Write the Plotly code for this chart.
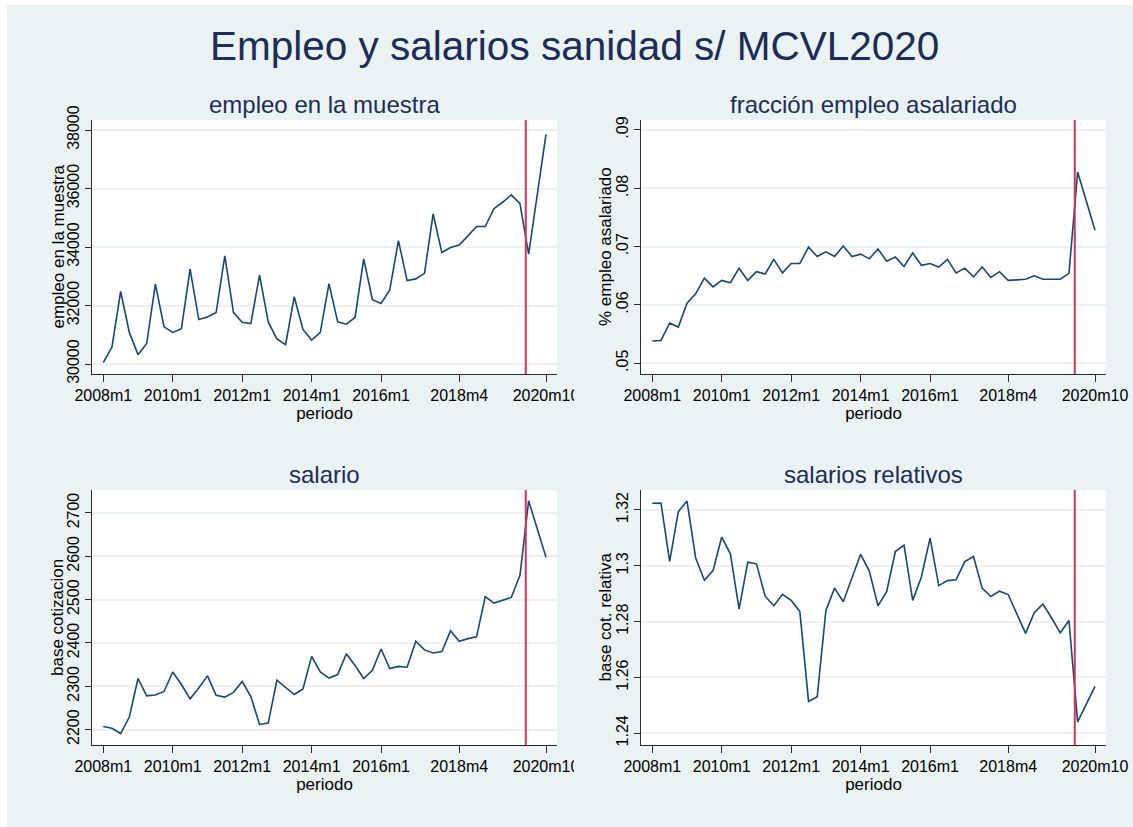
import plotly.graph_objects as go

W, H = 1133, 827

# Quarterly observations (monthly Stata dates); 2020m7 not in the sample
periods = [
    "2008m1", "2008m4", "2008m7", "2008m10", "2009m1", "2009m4", "2009m7", "2009m10",
    "2010m1", "2010m4", "2010m7", "2010m10", "2011m1", "2011m4", "2011m7", "2011m10",
    "2012m1", "2012m4", "2012m7", "2012m10", "2013m1", "2013m4", "2013m7", "2013m10",
    "2014m1", "2014m4", "2014m7", "2014m10", "2015m1", "2015m4", "2015m7", "2015m10",
    "2016m1", "2016m4", "2016m7", "2016m10", "2017m1", "2017m4", "2017m7", "2017m10",
    "2018m1", "2018m4", "2018m7", "2018m10", "2019m1", "2019m4", "2019m7", "2019m10",
    "2020m1", "2020m4", "2020m10",
]

empleo = [
    30050, 30580, 32480, 31080, 30320, 30700, 32730, 31270,
    31080, 31210, 33240, 31520, 31610, 31760, 33700, 31760,
    31430, 31380, 33040, 31440, 30860, 30660, 32300, 31180,
    30820, 31080, 32750, 31440, 31360, 31590, 33590, 32200,
    32070, 32530, 34220, 32850, 32910, 33100, 35130, 33810,
    33980, 34070, 34380, 34700, 34700, 35310, 35530, 35780,
    35480, 33760, 37850,
]

fraccion = [
    0.0538, 0.0539, 0.0569, 0.0562, 0.0603, 0.0619, 0.0646, 0.0631,
    0.0642, 0.0638, 0.0663, 0.0642, 0.0657, 0.0653, 0.0678, 0.0655,
    0.0671, 0.0671, 0.0699, 0.0683, 0.0691, 0.0683, 0.0701, 0.0683,
    0.0687, 0.0679, 0.0696, 0.0675, 0.0682, 0.0666, 0.0689, 0.0668,
    0.0671, 0.0665, 0.0678, 0.0655, 0.0663, 0.0648, 0.0665, 0.0647,
    0.0657, 0.0642, 0.0643, 0.0644, 0.0650, 0.0644, 0.0644, 0.0644,
    0.0654, 0.0828, 0.0728,
]

salario = [
    2207, 2203, 2191, 2229, 2318, 2278, 2280, 2288,
    2333, 2304, 2271, 2296, 2324, 2279, 2275, 2286,
    2311, 2276, 2212, 2215, 2314, 2298, 2281, 2294,
    2369, 2333, 2319, 2327, 2375, 2348, 2318, 2337,
    2386, 2341, 2346, 2344, 2404, 2384, 2377, 2380,
    2428, 2404, 2410, 2414, 2507, 2492, 2498, 2505,
    2556, 2728, 2598,
]

relativos = [
    1.3224, 1.3225, 1.3016, 1.3194, 1.3232, 1.3028, 1.2948, 1.2983,
    1.3103, 1.3043, 1.2845, 1.3013, 1.3007, 1.2891, 1.2857, 1.2898,
    1.2876, 1.2836, 1.2514, 1.2531, 1.2840, 1.2920, 1.2871, 1.2956,
    1.3041, 1.2981, 1.2857, 1.2907, 1.3051, 1.3074, 1.2876, 1.2960,
    1.3099, 1.2929, 1.2947, 1.2950, 1.3015, 1.3033, 1.2920, 1.2890,
    1.2909, 1.2897, 1.2828, 1.2758, 1.2832, 1.2863, 1.2813, 1.2760,
    1.2804, 1.2441, 1.2568,
]

x_ticks = ["2008m1", "2010m1", "2012m1", "2014m1", "2016m1", "2018m4", "2020m10"]
covid_period = "2020m3"

y1_ticks = [30000, 32000, 34000, 36000, 38000]
y2_ticks = [0.05, 0.06, 0.07, 0.08, 0.09]
y2_text = [".05", ".06", ".07", ".08", ".09"]
y3_ticks = [2200, 2300, 2400, 2500, 2600, 2700]
y4_ticks = [1.24, 1.26, 1.28, 1.30, 1.32]
y4_text = ["1.24", "1.26", "1.28", "1.3", "1.32"]


def month_index(p):
    y, m = p.split("m")
    return (int(y) - 2008) * 12 + int(m) - 1


xs = [month_index(p) for p in periods]

BG = "#EAF2F3"
NAVY = "#1a476f"
TITLE_C = "#1c2d57"
RED = "#c8385a"
AXIS_C = "#2b2b2b"
FONT = "Liberation Sans, Arial, sans-serif"


def fx(px):
    return px / W


def fy(py):
    return 1 - py / H


# plot areas in pixels: (left, right, top, bottom)
boxes = [
    (92, 557, 120, 374),
    (641, 1106, 120, 374),
    (92, 557, 490, 745),
    (641, 1106, 490, 745),
]
title_y = [104, 104, 474, 474]
ytitle_x = [57.5, 605, 57.5, 605]

panels = [
    ("empleo en la muestra", "empleo en la muestra", empleo, [29658, 38342], y1_ticks, [str(v) for v in y1_ticks]),
    ("fracción empleo asalariado", "% empleo asalariado", fraccion, [0.04815, 0.09171], y2_ticks, y2_text),
    ("salario", "base cotizacion", salario, [2164.5, 2753], y3_ticks, [str(v) for v in y3_ticks]),
    ("salarios relativos", "base cot. relativa", relativos, [1.2358, 1.32715], y4_ticks, y4_text),
]

fig = go.Figure()
layout = dict(
    width=W, height=H,
    autosize=False,
    margin=dict(l=0, r=0, t=0, b=0, pad=0, autoexpand=False),
    paper_bgcolor=BG,
    plot_bgcolor="white",
    showlegend=False,
    font=dict(family=FONT, color="black", size=16),
    shapes=[],
    annotations=[],
)

# thin white frame on the left and top edges of the graph region
layout["shapes"].append(dict(
    type="rect", xref="paper", yref="paper", layer="below",
    x0=0, x1=fx(7), y0=0, y1=1, fillcolor="white", line=dict(width=0),
))
layout["shapes"].append(dict(
    type="rect", xref="paper", yref="paper", layer="below",
    x0=0, x1=1, y0=fy(5), y1=1, fillcolor="white", line=dict(width=0),
))

for k, (title, ytitle, vals, yrange, yticks, ytext) in enumerate(panels):
    n = k + 1
    xa = "x" if n == 1 else f"x{n}"
    ya = "y" if n == 1 else f"y{n}"
    l, r, t, b = boxes[k]

    fig.add_trace(go.Scatter(
        x=xs, y=vals, mode="lines",
        line=dict(color=NAVY, width=1.6),
        xaxis=xa, yaxis=ya, connectgaps=True, hoverinfo="x+y",
    ))

    layout[f"xaxis{'' if n == 1 else n}"] = dict(
        domain=[fx(l), fx(r)], anchor=ya,
        range=[-3.9, 156.8],
        tickmode="array",
        tickvals=[month_index(p) for p in x_ticks], ticktext=x_ticks,
        ticks="outside", ticklen=7, tickwidth=1, tickcolor=AXIS_C,
        showline=True, linecolor=AXIS_C, linewidth=1,
        showgrid=False, zeroline=False, automargin=False,
        tickfont=dict(size=16, color="black", family=FONT),
        title=dict(text="periodo", font=dict(size=17, color="black", family=FONT), standoff=2),
    )
    layout[f"yaxis{'' if n == 1 else n}"] = dict(
        domain=[fy(b), fy(t)], anchor=xa,
        range=yrange,
        tickmode="array", tickvals=yticks, ticktext=ytext,
        tickangle=-90,
        ticks="outside", ticklen=6, tickwidth=1, tickcolor=AXIS_C,
        showline=True, linecolor=AXIS_C, linewidth=1,
        showgrid=True, gridcolor=BG, gridwidth=1.5,
        zeroline=False, automargin=False,
        tickfont=dict(size=16, color="black", family=FONT),
    )

    # y-axis title, rotated
    layout["annotations"].append(dict(
        text=ytitle, xref="paper", yref="paper", textangle=-90,
        x=fx(ytitle_x[k]), y=fy((t + b) / 2), xanchor="center", yanchor="middle",
        showarrow=False, font=dict(size=17, color="black", family=FONT),
    ))

    # vertical reference line at 2020m3
    layout["shapes"].append(dict(
        type="line", xref=xa, yref=f"{ya} domain",
        x0=month_index(covid_period), x1=month_index(covid_period), y0=0, y1=1,
        line=dict(color=RED, width=2),
    ))

    # panel title
    layout["annotations"].append(dict(
        text=title, xref="paper", yref="paper",
        x=fx((l + r) / 2), y=fy(title_y[k]), xanchor="center", yanchor="middle",
        showarrow=False, font=dict(size=24, color=TITLE_C, family=FONT),
    ))

# left column is clipped at its region boundary
for top in (380, 750):
    layout["shapes"].append(dict(
        type="rect", xref="paper", yref="paper", layer="above",
        x0=fx(574), x1=fx(592), y0=fy(top + 30), y1=fy(top),
        fillcolor=BG, line=dict(width=0),
    ))

# main title
layout["annotations"].append(dict(
    text="Empleo y salarios sanidad s/ MCVL2020", xref="paper", yref="paper",
    x=fx(574), y=fy(46), xanchor="center", yanchor="middle",
    showarrow=False, font=dict(size=40.5, color=TITLE_C, family=FONT),
))

fig.update_layout(**layout)
fig.write_html("out.html")
